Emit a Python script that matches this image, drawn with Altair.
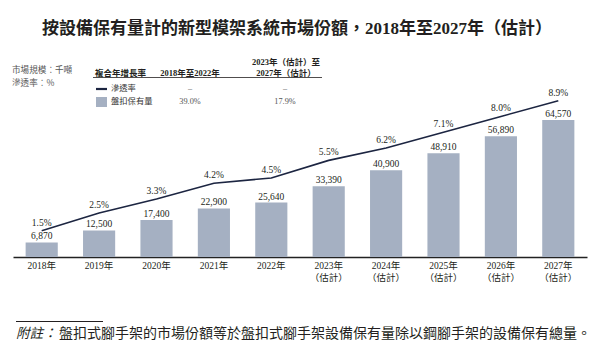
import altair as alt
import pandas as pd

years = ["2018年", "2019年", "2020年", "2021年", "2022年",
         "2023年", "2024年", "2025年", "2026年", "2027年"]
suffix = ["", "", "", "", "", "（估計）", "（估計）", "（估計）", "（估計）", "（估計）"]
holdings = [6870, 12500, 17400, 22900, 25640, 33390, 40900, 48910, 56890, 64570]
penetration = [1.5, 2.5, 3.3, 4.2, 4.5, 5.5, 6.2, 7.1, 8.0, 8.9]

legend_rows = ["滲透率", "盤扣保有量"]
cagr_2018_2022 = ["–", "39.0%"]
cagr_2023_2027 = ["–", "17.9%"]

title = "按設備保有量計的新型模架系統市場份額，2018年至2027年（估計）"
footnote_label = "附註："
footnote = "盤扣式腳手架的市場份額等於盤扣式腳手架設備保有量除以鋼腳手架的設備保有總量。"

labels = [y + ("|" + s if s else "") for y, s in zip(years, suffix)]
df = pd.DataFrame({
    "label": labels,
    "holdings": holdings,
    "penetration": penetration,
    "htxt": [f"{v:,}" for v in holdings],
    "ptxt": [f"{v:.1f}%" for v in penetration],
})

SERIF = "Liberation Serif, Noto Sans CJK TC"
SANS = "Noto Sans CJK TC"
BAR = "#a5b0c2"
LINE = "#1c2541"
TXT = "#231f20"

W, H = 574, 257

x = alt.X("label:N", sort=labels,
          scale=alt.Scale(paddingInner=0.44, paddingOuter=0.22),
          axis=alt.Axis(title=None, labelExpr="split(datum.label, '|')",
                        labelAngle=0, labelFont=SERIF, labelFontSize=9.5,
                        labelColor=TXT, labelPadding=3, labelLineHeight=12,
                        ticks=False, domainColor="#222222", domainWidth=1.3,
                        grid=False))

ybar = alt.Y("holdings:Q", scale=alt.Scale(domain=[0, 121100], nice=False), axis=None)
yline = alt.Y("penetration:Q", scale=alt.Scale(domain=[0, 14.63], nice=False), axis=None)

base = alt.Chart(df)

bars = base.mark_bar(color=BAR).encode(x=x, y=ybar)

line = base.mark_line(color=LINE, strokeWidth=1.6).encode(x=x, y=yline)

label_bg = base.mark_point(
    shape="M-1,-0.33L1,-0.33L1,0.33L-1,0.33Z", size=784, filled=True,
    color="white", opacity=1, strokeWidth=0, yOffset=-6
).encode(x=x, y=ybar)

bar_labels = base.mark_text(font=SERIF, fontSize=9.5, color=TXT,
                            baseline="middle", dy=-6).encode(
    x=x, y=ybar, text="htxt:N")

pct_labels = base.mark_text(font=SERIF, fontSize=9.5, color=TXT,
                            baseline="middle", dy=-8).encode(
    x=x, y=yline, text="ptxt:N")

one = pd.DataFrame({"k": [0]})
OX = 13  # plot origin x


def txt(s, ax, ay, size=8, bold=False, font=SERIF, align="left", color=TXT, italic=False):
    kw = dict(font=font, fontSize=size, color=color, align=align, baseline="middle")
    if bold:
        kw["fontWeight"] = "bold"
    if italic:
        kw["fontStyle"] = "italic"
    return alt.Chart(one).mark_text(**kw).encode(
        x=alt.value(ax - OX), y=alt.value(ay), text=alt.value(s))


def hline(x1, x2, yy, color=TXT, w=1.0):
    return alt.Chart(one).mark_rule(color=color, strokeWidth=w).encode(
        x=alt.value(x1 - OX), x2=alt.value(x2 - OX), y=alt.value(yy))


annots = [
    txt(title, 297, 29, size=17, bold=True, align="center"),
    txt("市場規模：千噸", 12, 70, size=8.6, font=SANS, color="#555555"),
    txt("滲透率：%", 12, 83, size=8.6, font=SANS, color="#555555"),
    txt("複合年增長率", 95, 72.5, size=8.5, bold=True, font=SANS),
    txt("2018年至2022年", 190, 72.5, size=8.5, bold=True, align="center"),
    txt("2023年（估計）至", 286, 62, size=8.5, bold=True, align="center"),
    txt("2027年（估計）", 286, 72.5, size=8.5, bold=True, align="center"),
    hline(93, 322, 77.5, w=0.8),
    hline(96, 107, 89, color=LINE, w=2.2),
    alt.Chart(one).mark_rect(color=BAR).encode(
        x=alt.value(96 - OX), x2=alt.value(107 - OX),
        y=alt.value(97), y2=alt.value(107)),
    txt(legend_rows[0], 111, 89, size=8.3, font=SANS, color="#333333"),
    txt(legend_rows[1], 111, 102, size=8.3, font=SANS, color="#333333"),
    txt(cagr_2018_2022[0], 190, 89, size=8.3, align="center", color="#555555"),
    txt(cagr_2018_2022[1], 190, 102, size=8.3, align="center", color="#555555"),
    txt(cagr_2023_2027[0], 285, 89, size=8.3, align="center", color="#555555"),
    txt(cagr_2023_2027[1], 285, 102, size=8.3, align="center", color="#555555"),
    hline(16, 103, 321.5, w=1.0),
    txt(footnote_label, 16, 333.5, size=13.6, font=SANS, italic=True),
    txt(footnote, 59, 333.5, size=14.0, font=SANS),
]

chart = alt.layer(
    alt.layer(bars, line, label_bg, bar_labels, pct_labels).resolve_scale(y="independent"),
    *annots
).properties(
    width=W, height=H,
    autosize=alt.AutoSizeParams(type="none"),
    padding={"left": 13, "top": 0, "right": 23, "bottom": 96},
    background="white",
).configure_view(stroke=None)

chart.save("out.html", embed_options={"renderer": "svg", "actions": False})
